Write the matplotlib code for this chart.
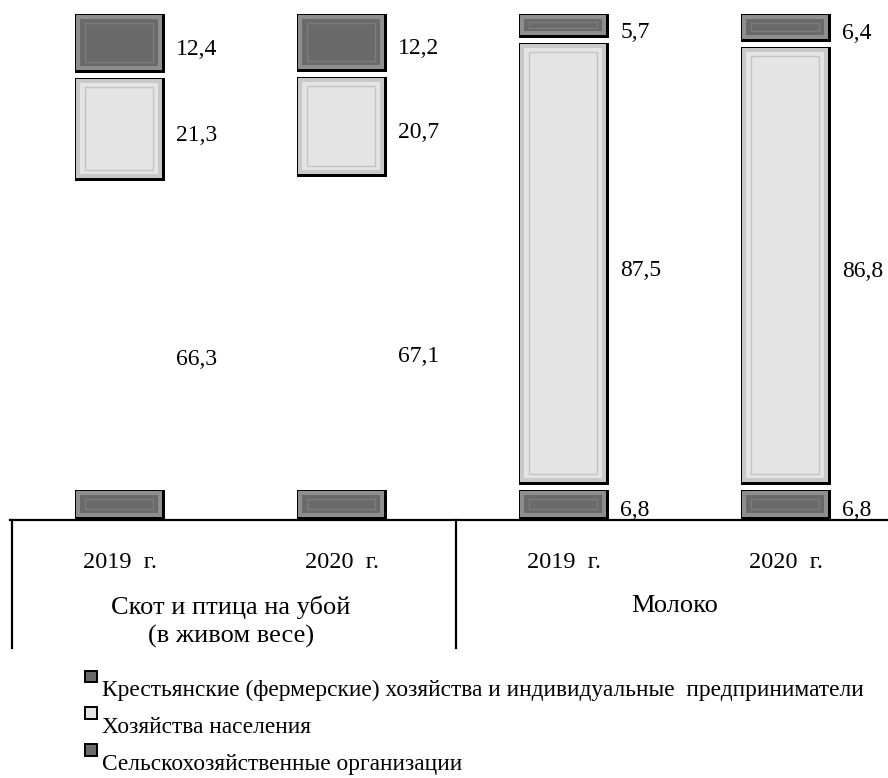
import numpy as np
import matplotlib
matplotlib.use('Agg')
import matplotlib.pyplot as plt
from matplotlib.path import Path
from matplotlib.patches import Patch, Rectangle
from matplotlib.patheffects import AbstractPathEffect
from matplotlib.legend_handler import HandlerPatch
from matplotlib.transforms import IdentityTransform, blended_transform_factory

plt.rcParams['font.family'] = ['Liberation Serif', 'DejaVu Serif']

# данные (%)
years = ['2019  г.', '2020  г.', '2019  г.', '2020  г.']
groups = ['Скот и птица на убой\n(в живом весе)', 'Молоко']
agro_org = [66.3, 67.1, 6.8, 6.8]      # Сельскохозяйственные организации
households = [21.3, 20.7, 87.5, 86.8]  # Хозяйства населения
farmers = [12.4, 12.2, 5.7, 6.4]       # КФХ и ИП
labels = ['Крестьянские (фермерские) хозяйства и индивидуальные  предприниматели',
          'Хозяйства населения',
          'Сельскохозяйственные организации']

# в исходнике нижний сегмент у мяса виден только узкой полоской у оси
STUB = 6.8

DARK = '#6a6a6a'
DARK_BAND = '#8e8e8e'
LIGHT = '#e4e4e4'
LIGHT_BAND = '#c9c9c9'


class Bevel(AbstractPathEffect):
    # "объемный" прямоугольник с белым зазором над сегментом
    def __init__(self, fill, band, line, gap=5):
        super().__init__()
        self.fill, self.band, self.line, self.gap = fill, band, line, gap

    def _rect(self, x0, y0, x1, y1):
        return Path([(x0, y0), (x1, y0), (x1, y1), (x0, y1), (x0, y0)],
                    [Path.MOVETO, Path.LINETO, Path.LINETO, Path.LINETO, Path.CLOSEPOLY])

    def draw_path(self, renderer, gc, tpath, affine, rgbFace=None):
        v = affine.transform(tpath.vertices)
        x0, x1 = v[:, 0].min(), v[:, 0].max()
        y0, y1 = v[:, 1].min(), v[:, 1].max()
        y1 -= renderer.points_to_pixels(self.gap * 0.72)
        if y1 - y0 < 4:
            return
        c = matplotlib.colors.to_rgba
        idt = IdentityTransform()
        gc0 = renderer.new_gc()
        gc0.copy_properties(gc)
        gc0.set_linewidth(0)
        renderer.draw_path(gc0, self._rect(x0, y0, x1, y1), idt, (0, 0, 0, 1))
        renderer.draw_path(gc0, self._rect(x0 + 1, y0 + 3, x1 - 3, y1 - 1), idt, c(self.band))
        ins = min(5, (y1 - y0) / 4)
        renderer.draw_path(gc0, self._rect(x0 + 5, y0 + ins + 2, x1 - 7, y1 - ins), idt, c(self.fill))
        gc1 = renderer.new_gc()
        gc1.copy_properties(gc)
        gc1.set_linewidth(1)
        gc1.set_foreground(self.line)
        ins2 = min(9, (y1 - y0) / 3)
        renderer.draw_path(gc1, self._rect(x0 + 10, y0 + ins2 + 2, x1 - 12, y1 - ins2), idt, None)
        gc0.restore()
        gc1.restore()


def raised_square(legend, orig_handle, xdescent, ydescent, width, height, fontsize):
    # маркер легенды стоит выше строки, как в исходнике
    return Rectangle((-xdescent, 0.6 * fontsize), width, width)


fig = plt.figure(figsize=(8.88, 7.78), dpi=100)
ax = fig.add_axes([10 / 888, 1 - 520 / 778, 878 / 888, 520 / 778])

x = np.arange(len(years))
w = 0.405
agro = np.array(agro_org)
hh = np.array(households)
fm = np.array(farmers)

stub = np.minimum(agro, STUB)
ax.bar(x, stub, w, color=DARK, linewidth=0,
       path_effects=[Bevel(DARK, DARK_BAND, '#7d7d7d')])
ax.bar(x, hh, w, bottom=agro, color=LIGHT, linewidth=0,
       path_effects=[Bevel(LIGHT, LIGHT_BAND, '#c4c4c4')])
ax.bar(x, fm, w, bottom=agro + hh, color=DARK, linewidth=0,
       path_effects=[Bevel(DARK, DARK_BAND, '#7d7d7d')])

for vals, bottoms in [(agro, np.zeros(4)), (hh, agro), (fm, agro + hh)]:
    for xi, v, b in zip(x, vals, bottoms):
        ax.annotate(f'{v:.1f}'.replace('.', ','), xy=(xi + w / 2, b + v / 2),
                    xytext=(8, -6), textcoords='offset points',
                    va='center', ha='left', fontsize=17)

ax.set_xlim(-110 / 222, 768 / 222)
ax.set_ylim(0, 101.8)
for s in ['top', 'left', 'right']:
    ax.spines[s].set_visible(False)
ax.spines['bottom'].set_linewidth(1.6)
ax.set_yticks([])
ax.set_xticks(x)
ax.set_xticklabels(years, fontsize=17.5)
ax.tick_params(axis='x', length=0, pad=23)

tr = blended_transform_factory(ax.transData, ax.transAxes)
for gi, name in enumerate(groups):
    ax.text(gi * 2 + 0.5, -0.145, name, transform=tr, ha='center', va='top',
            fontsize=19, linespacing=1.32)
for xd in [-0.486, 1.514]:
    ax.plot([xd, xd], [0, -0.246], transform=tr, color='black', lw=1.6, clip_on=False)

handles = [Patch(facecolor=DARK, edgecolor='black', linewidth=1.4),
           Patch(facecolor=LIGHT, edgecolor='black', linewidth=1.4),
           Patch(facecolor=DARK, edgecolor='black', linewidth=1.4)]
fig.legend(handles, labels, loc='upper left', bbox_to_anchor=(85 / 888, 1 - 680 / 778),
           frameon=False, fontsize=16.8, handlelength=0.5, handleheight=0.5,
           handletextpad=0.22, labelspacing=0.68, borderpad=0, borderaxespad=0,
           handler_map={Patch: HandlerPatch(patch_func=raised_square)})

fig.savefig('out.png', dpi=100)
